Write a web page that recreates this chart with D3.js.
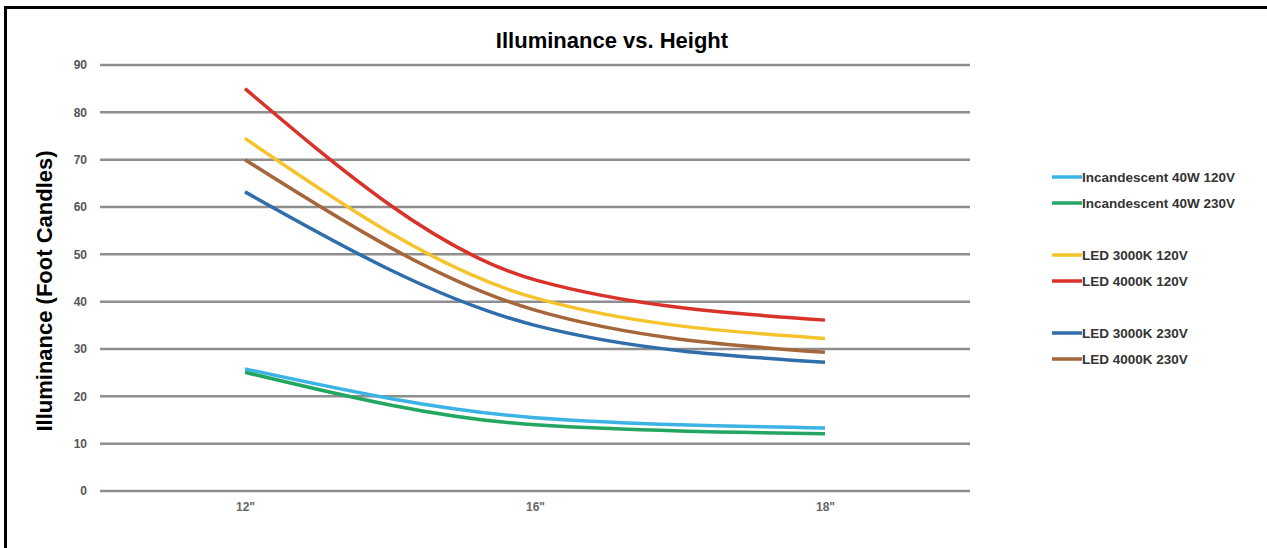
<!DOCTYPE html>
<html>
<head>
<meta charset="utf-8">
<script src="https://cdn.jsdelivr.net/npm/d3@7"></script>
<style>
  body { margin: 0; background: #fff; }
  text { font-family: "Liberation Sans", Arial, sans-serif; }
</style>
</head>
<body>
<script>
var heights = ['12"', '16"', '18"'];
var yTicks = [0, 10, 20, 30, 40, 50, 60, 70, 80, 90];

var seriesNames = ["Incandescent 40W 120V", "Incandescent 40W 230V",
  "LED 3000K 120V", "LED 4000K 120V", "LED 3000K 230V", "LED 4000K 230V"];
var seriesColors = ["#3bb4e5", "#23a661", "#f5c42c", "#d8322a", "#2f6eab", "#a5663b"];

var inc120 = [25.8, 15.5, 13.3];
var inc230 = [25.1, 14.0, 12.1];
var led3000k120 = [74.5, 40.8, 32.2];
var led4000k120 = [85.0, 44.6, 36.1];
var led3000k230 = [63.2, 35.0, 27.2];
var led4000k230 = [70.0, 38.2, 29.3];

var seriesValues = [inc120, inc230, led3000k120, led4000k120, led3000k230, led4000k230];
// legend rows, with a gap between pairs
var legendRows = [0, 1, 3, 4, 6, 7];

var width = 1267, height = 548;
var plot = {left: 100, right: 970, top: 65, bottom: 491};

var svg = d3.select("body").append("svg")
    .attr("width", width)
    .attr("height", height);

// frame
svg.append("path")
    .attr("d", "M5.5," + height + " L5.5,7.5 L" + width + ",7.5")
    .style("fill", "none")
    .style("stroke", "#000")
    .style("stroke-width", 3);

var x = d3.scalePoint()
    .domain(heights)
    .range([plot.left, plot.right])
    .padding(0.5);

var y = d3.scaleLinear()
    .domain([0, 90])
    .range([plot.bottom, plot.top]);

// gridlines
svg.append("g").selectAll(".grid")
    .data(yTicks)
    .enter()
    .append("line")
    .attr("class", "grid")
    .attr("x1", plot.left)
    .attr("x2", plot.right)
    .attr("y1", (d) => y(d))
    .attr("y2", (d) => y(d))
    .style("stroke", "#8e8e8e")
    .style("stroke-width", 2.5);

// y axis labels
var yAxis = d3.axisLeft(y).tickValues(yTicks).tickSize(0).tickPadding(0);
var gy = svg.append("g")
    .attr("transform", "translate(87,0)")
    .call(yAxis);
gy.select(".domain").remove();
gy.selectAll("text")
    .style("font-size", "12px")
    .style("font-weight", "bold")
    .style("fill", "#555")
    .style("font-family", "Liberation Sans, Arial, sans-serif");

// x axis labels
var xAxis = d3.axisBottom(x).tickSize(0).tickPadding(0);
var gx = svg.append("g")
    .attr("transform", "translate(0,502)")
    .call(xAxis);
gx.select(".domain").remove();
gx.selectAll("text")
    .style("font-size", "12px")
    .style("font-weight", "bold")
    .style("fill", "#666")
    .style("font-family", "Liberation Sans, Arial, sans-serif");

// lines
var line = d3.line()
    .x((d, i) => x(heights[i]))
    .y((d) => y(d))
    .curve(d3.curveMonotoneX);

svg.append("g").selectAll(".series")
    .data(seriesValues)
    .enter()
    .append("path")
    .attr("class", "series")
    .attr("d", (d) => line(d))
    .style("fill", "none")
    .style("stroke", (d, i) => seriesColors[i])
    .style("stroke-width", 3.5)
    .style("stroke-linecap", "butt");

// title
svg.append("text")
    .attr("x", 612)
    .attr("y", 48)
    .attr("text-anchor", "middle")
    .style("font-size", "22px")
    .style("font-weight", "bold")
    .text("Illuminance vs. Height");

// y axis title
svg.append("text")
    .attr("transform", "translate(52,291) rotate(-90)")
    .attr("text-anchor", "middle")
    .style("font-size", "22px")
    .style("font-weight", "bold")
    .text("Illuminance (Foot Candles)");

// legend
var legend = svg.append("g").selectAll(".legend")
    .data(seriesNames)
    .enter()
    .append("g")
    .attr("class", "legend")
    .attr("transform", (d, i) => "translate(1052," + (177 + legendRows[i] * 26) + ")");

legend.append("line")
    .attr("x1", 0)
    .attr("x2", 30)
    .style("stroke", (d, i) => seriesColors[i])
    .style("stroke-width", 3.5);

legend.append("text")
    .attr("x", 30)
    .attr("y", 5)
    .style("font-size", "13.5px")
    .style("font-weight", "bold")
    .style("fill", "#333")
    .text((d) => d);
</script>
</body>
</html>
